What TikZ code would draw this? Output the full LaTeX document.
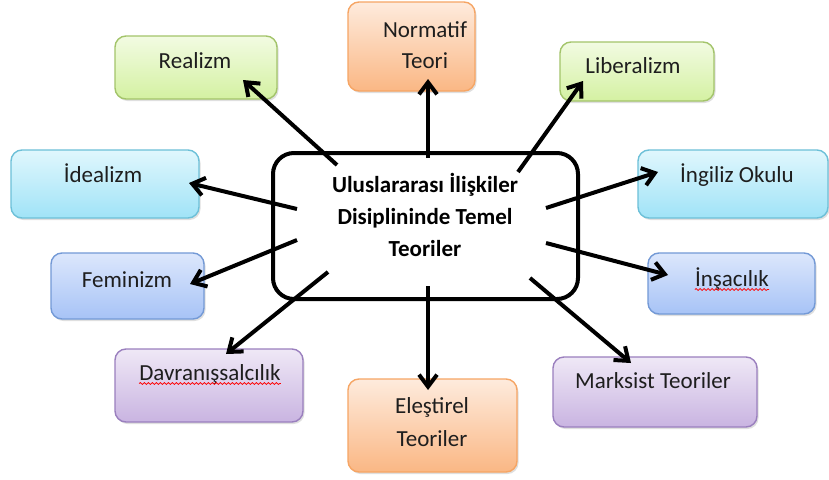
\documentclass[tikz,border=0pt]{standalone}
\usepackage{fontspec}
\setmainfont{Carlito}
\usetikzlibrary{arrows.meta,shadows,decorations.pathmorphing}
\definecolor{grB}{HTML}{A3C46A}\definecolor{grT}{HTML}{F2FBE2}\definecolor{grD}{HTML}{D4F1A2}
\definecolor{orB}{HTML}{F6A564}\definecolor{orT}{HTML}{FEEBDD}\definecolor{orD}{HTML}{FAB784}
\definecolor{cyB}{HTML}{6CC0D8}\definecolor{cyT}{HTML}{E0F7FD}\definecolor{cyD}{HTML}{A0E3F7}
\definecolor{blB}{HTML}{7399D6}\definecolor{blT}{HTML}{DCE7FC}\definecolor{blD}{HTML}{A7C3F6}
\definecolor{puB}{HTML}{9A7FBE}\definecolor{puT}{HTML}{EFE8F6}\definecolor{puD}{HTML}{C9B4E1}
\definecolor{txt}{HTML}{1E1E1E}
\tikzset{
  tbox/.style={draw, line width=1.4pt, rounded corners=11pt, inner sep=0pt,
    drop shadow={opacity=0.25, shadow xshift=1.5pt, shadow yshift=-2pt}},
  green box/.style={tbox, draw=grB, top color=grT, bottom color=grD},
  orange box/.style={tbox, draw=orB, top color=orT, bottom color=orD},
  cyan box/.style={tbox, draw=cyB, top color=cyT, bottom color=cyD},
  blue box/.style={tbox, draw=blB, top color=blT, bottom color=blD},
  purple box/.style={tbox, draw=puB, top color=puT, bottom color=puD},
  lbl/.style={anchor=base, inner sep=0pt, text=txt, font=\fontsize{23}{28}\selectfont},
  clbl/.style={anchor=base, inner sep=0pt, text=black, font=\fontsize{23}{28}\selectfont\bfseries},
  centerbox/.style={draw=black, line width=4pt, rounded corners=21pt, fill=white, inner sep=0pt},
  conn/.style={draw=black, line width=4pt, -{Straight Barb[length=12pt,width=18pt]}},
  spell/.style={draw=red, line width=0.8pt, decorate, decoration={snake, segment length=4pt, amplitude=0.9pt}}
}
\begin{document}
\begin{tikzpicture}[x=1pt,y=-1pt]
\fill[white] (0,0) rectangle (829,479);
\useasboundingbox (0,0) rectangle (829,479);
% boxes
\node[green box, minimum width=162pt, minimum height=63pt] (realizm) at (196,67.5) {};
\node[orange box, minimum width=127pt, minimum height=89pt] (normatif) at (411.5,46.5) {};
\node[green box, minimum width=154pt, minimum height=59pt] (liberalizm) at (637,71.5) {};
\node[cyan box, minimum width=188pt, minimum height=68pt] (idealizm) at (105,184) {};
\node[cyan box, minimum width=190pt, minimum height=68pt] (ingiliz) at (733,184) {};
\node[blue box, minimum width=153pt, minimum height=66pt] (feminizm) at (127.5,286) {};
\node[blue box, minimum width=167pt, minimum height=61pt] (insacilik) at (731.5,283.5) {};
\node[purple box, minimum width=188pt, minimum height=73pt] (davranis) at (209,385.5) {};
\node[purple box, minimum width=204pt, minimum height=70pt] (marksist) at (655,392) {};
\node[orange box, minimum width=169pt, minimum height=93pt] (elestirel) at (432.5,425.5) {};
\node[centerbox, minimum width=305pt, minimum height=146pt] (center) at (425.5,226) {};
% labels
\node[lbl] (realizmT) at (195,68) {Realizm};
\node[lbl] (normatifT1) at (425,37) {Normatif};
\node[lbl] (normatifT2) at (425,68) {Teori};
\node[lbl] (liberalizmT) at (633,73) {Liberalizm};
\node[lbl] (idealizmT) at (103,182) {İdealizm};
\node[lbl] (ingilizT) at (737,182) {İngiliz Okulu};
\node[lbl] (feminizmT) at (127,287) {Feminizm};
\node[lbl] (insacilikT) at (732,286) {İnşacılık};
\node[lbl] (davranisT) at (210,380) {Davranışsalcılık};
\node[lbl] (marksistT) at (653,388) {Marksist Teoriler};
\node[lbl] (elestirelT1) at (432,413) {Eleştirel};
\node[lbl] (elestirelT2) at (432,446) {Teoriler};
\node[clbl] (centerT1) at (425,192) {Uluslararası İlişkiler};
\node[clbl] (centerT2) at (425,224) {Disiplininde Temel};
\node[clbl] (centerT3) at (425,256) {Teoriler};
% spell-check underlines
\draw[spell] ([yshift=-3.5pt]davranisT.base west) -- ([yshift=-3.5pt]davranisT.base east);
\draw[spell] ([yshift=-3.5pt]insacilikT.base west) -- ([yshift=-3.5pt]insacilikT.base east);
% connector points
\coordinate (sRe) at (337,165); \coordinate (eRe) at (243,80);
\coordinate (sNo) at (428,158); \coordinate (eNo) at (428,79);
\coordinate (sLi) at (518,172); \coordinate (eLi) at (583,81);
\coordinate (sId) at (297,209); \coordinate (eId) at (189,183);
\coordinate (sFe) at (297,240); \coordinate (eFe) at (190,284);
\coordinate (sDa) at (328,272); \coordinate (eDa) at (226,354);
\coordinate (sEl) at (428,286); \coordinate (eEl) at (428,390);
\coordinate (sMa) at (530,278); \coordinate (eMa) at (631,363);
\coordinate (sIn) at (546,243); \coordinate (eIn) at (668,275);
\coordinate (sIg) at (546,208); \coordinate (eIg) at (658,172);
\foreach \a in {Re,No,Li,Id,Fe,Da,El,Ma,In,Ig}{\draw[conn] (s\a) -- (e\a);}
\end{tikzpicture}
\end{document}
